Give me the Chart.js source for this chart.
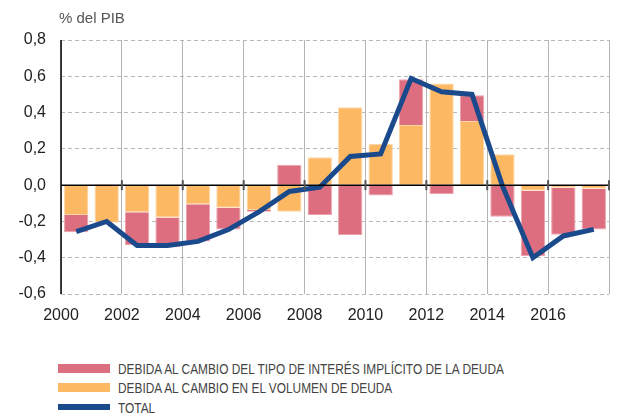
<!DOCTYPE html>
<html>
<head>
<meta charset="utf-8">
<script src="https://cdn.jsdelivr.net/npm/chart.js"></script>
<style>
  body { margin: 0; background: #fff; }
  #wrap { position: relative; width: 621px; height: 417px; }
  #chart { position: absolute; left: 0; top: 0; }
  #legend { position: absolute; left: 58px; top: 358.5px; font-family: "Liberation Sans", Arial, sans-serif; font-size: 15px; color: #444; }
  .item { display: flex; align-items: center; height: 19.5px; white-space: nowrap; }
  .swatch { width: 52px; height: 9px; margin-right: 8px; flex: none; }
  .txt { display: inline-block; transform-origin: left center; }
</style>
</head>
<body>
<div id="wrap">
  <canvas id="chart" width="621" height="340"></canvas>
  <div id="legend"></div>
</div>
<script>
const years = [2000, 2001, 2002, 2003, 2004, 2005, 2006, 2007, 2008, 2009, 2010, 2011, 2012, 2013, 2014, 2015, 2016, 2017];
const volumen = [-0.165, -0.207, -0.15, -0.178, -0.106, -0.125, -0.137, -0.147, 0.154, 0.429, 0.227, 0.331, 0.56, 0.353, 0.17, -0.031, -0.015, -0.02];
const interes = [-0.095, 0.005, -0.18, -0.165, -0.205, -0.12, -0.01, 0.112, -0.165, -0.275, -0.057, 0.253, -0.049, 0.143, -0.174, -0.361, -0.258, -0.224];
const total = [-0.256, -0.2, -0.333, -0.333, -0.31, -0.245, -0.147, -0.035, -0.011, 0.158, 0.172, 0.588, 0.515, 0.5, -0.004, -0.4, -0.28, -0.244];
const yTicks = [-0.6, -0.4, -0.2, 0, 0.2, 0.4, 0.6, 0.8];
const xTicks = [2000, 2002, 2004, 2006, 2008, 2010, 2012, 2014, 2016];

const labels = {
  interes: "DEBIDA AL CAMBIO DEL TIPO DE INTERÉS IMPLÍCITO DE LA DEUDA",
  volumen: "DEBIDA AL CAMBIO EN EL VOLUMEN DE DEUDA",
  total: "TOTAL",
};
const colors = { interes: "#dc6e7f", volumen: "#fdb864", total: "#1b4a8c" };
const FONT = "'Liberation Sans', Arial, sans-serif";

// bars sit in the middle of each year
const pts = (arr) => arr.map((v, i) => ({ x: years[i] + 0.5, y: v }));

const fmt = (v) => v.toFixed(1).replace(".", ",");

const extras = {
  id: "extras",
  afterDatasetsDraw(chart) {
    const { ctx, chartArea, scales } = chart;
    const y0 = scales.y.getPixelForValue(0);
    ctx.save();
    // left axis
    ctx.strokeStyle = "#000";
    ctx.lineWidth = 1.5;
    ctx.beginPath();
    ctx.moveTo(chartArea.left, chartArea.top);
    ctx.lineTo(chartArea.left, chartArea.bottom);
    ctx.stroke();
    // zero line
    ctx.beginPath();
    ctx.moveTo(chartArea.left, y0);
    ctx.lineTo(chartArea.right, y0);
    ctx.stroke();
    ctx.strokeStyle = "#555";
    ctx.lineWidth = 2;
    scales.x.ticks.forEach((t) => {
      const x = scales.x.getPixelForValue(t.value);
      if (x <= chartArea.left + 1) return;
      ctx.beginPath();
      ctx.moveTo(x, y0 - 5);
      ctx.lineTo(x, y0 + 5);
      ctx.stroke();
    });
    ctx.restore();
  },
  afterDraw(chart) {
    const { ctx, chartArea } = chart;
    ctx.save();
    ctx.font = "15px " + FONT;
    ctx.fillStyle = "#555";
    ctx.textBaseline = "middle";
    ctx.fillText("% del PIB", chartArea.left - 2, 19);
    ctx.restore();
  },
};

const chart = new Chart(document.getElementById("chart"), {
  type: "bar",
  plugins: [extras],
  data: {
    datasets: [
      {
        label: labels.total,
        type: "line",
        data: pts(total),
        borderColor: colors.total,
        borderWidth: 5,
        pointRadius: 0,
        tension: 0,
        stack: "line",
        order: 0,
      },
      {
        label: labels.volumen,
        data: pts(volumen),
        backgroundColor: colors.volumen,
        borderColor: "#fdd6a6",
        borderWidth: 1,
        stack: "bars",
        order: 1,
      },
      {
        label: labels.interes,
        data: pts(interes),
        backgroundColor: colors.interes,
        borderColor: "#eba3ad",
        borderWidth: 1,
        stack: "bars",
        order: 1,
      },
    ],
  },
  options: {
    responsive: false,
    devicePixelRatio: 1,
    animation: false,
    barPercentage: 0.8,
    categoryPercentage: 1,
    layout: { padding: { left: 0, right: 2, top: 40, bottom: 0 } },
    plugins: { legend: { display: false }, tooltip: { enabled: false } },
    scales: {
      x: {
        type: "linear",
        offset: false,
        min: 2000,
        max: 2018,
        afterBuildTicks: (s) => { s.ticks = xTicks.concat([2018]).map((v) => ({ value: v })); },
        afterFit: (s) => { s.height = 46; },
        ticks: {
          autoSkip: false,
          maxRotation: 0,
          padding: 12,
          color: "#222",
          font: { family: FONT, size: 16 },
          callback: (v) => (xTicks.includes(v) ? String(v) : ""),
        },
        grid: { offset: false, color: "#b4b4b4", lineWidth: 1, drawTicks: false },
        border: { display: false },
      },
      y: {
        stacked: true,
        min: -0.6,
        max: 0.8,
        afterBuildTicks: (s) => { s.ticks = yTicks.map((v) => ({ value: v })); },
        afterFit: (s) => { s.width = 61; },
        ticks: {
          padding: 15,
          color: "#222",
          font: { family: FONT, size: 16 },
          callback: (v) => fmt(v),
        },
        grid: { color: "#b8b8b8", lineWidth: 1, drawTicks: false, borderDash: [4, 3] },
        border: { display: false, dash: [4, 3] },
      },
    },
  },
});

// legend in the same order as the original, squeezed like a condensed face
const legend = document.getElementById("legend");
const mctx = document.createElement("canvas").getContext("2d");
mctx.font = "15px " + FONT;
const squeeze = 389 / mctx.measureText(labels.interes).width;
[
  { text: labels.interes, color: colors.interes, h: 9 },
  { text: labels.volumen, color: colors.volumen, h: 9 },
  { text: labels.total, color: colors.total, h: 6 },
].forEach((it) => {
  const row = document.createElement("div");
  row.className = "item";
  row.innerHTML = `<span class="swatch" style="background:${it.color};height:${it.h}px"></span><span class="txt" style="transform:scaleX(${squeeze})">${it.text}</span>`;
  legend.appendChild(row);
});
</script>
</body>
</html>
